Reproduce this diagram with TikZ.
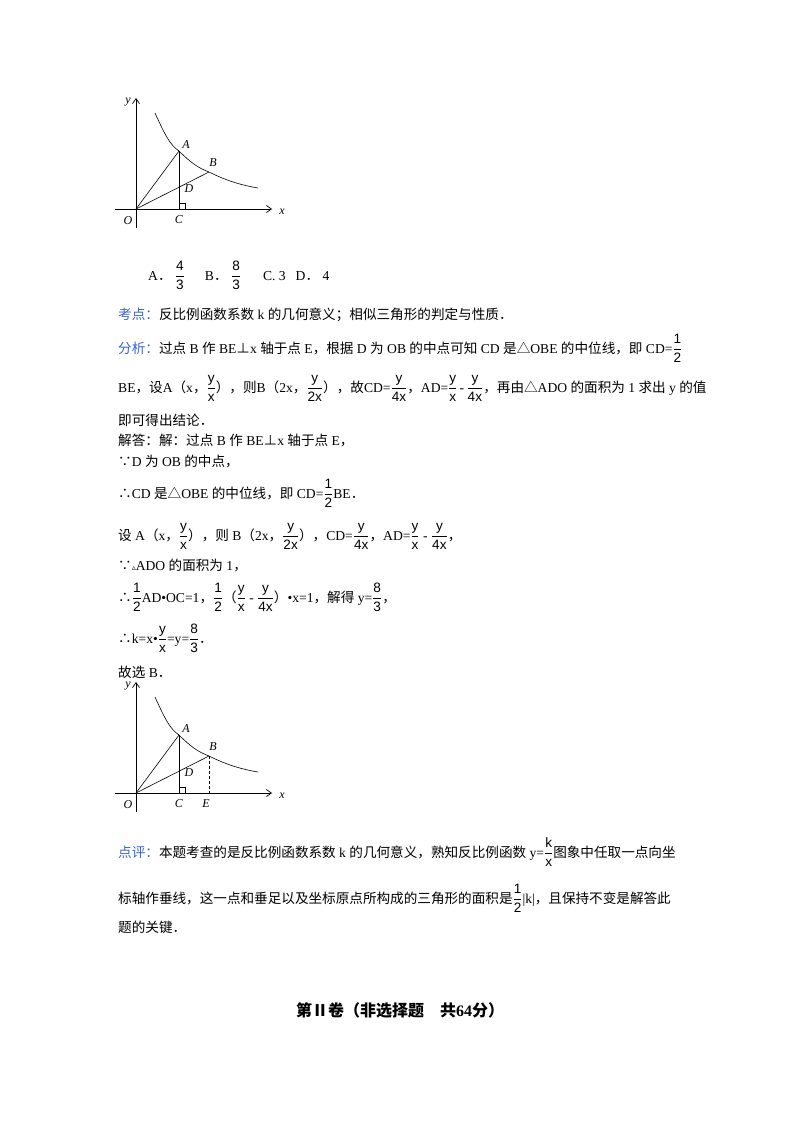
\documentclass[tikz,border=0pt]{standalone}
\usetikzlibrary{calc,arrows.meta}
\usepackage{amsmath}
\usepackage{fontspec}
\setmainfont{Liberation Serif}
\newfontfamily\cjk{Noto Sans CJK SC}
\newfontfamily\arl{Liberation Sans}
\newfontfamily\dv{DejaVu Sans}
\definecolor{kb}{RGB}{60,100,210}
\newcommand{\fr}[2]{$\dfrac{\hbox{\arl #1}}{\hbox{\arl #2}}$}
\newcommand{\zh}[1]{{\cjk #1}}
\newcommand{\sbc}{{\cjk ∵}}
\newcommand{\sth}{{\cjk ∴}}
\newcommand{\spp}{{\cjk ⊥}}
\newcommand{\stri}{{\cjk △}}
\newcommand{\sdot}{{\cjk ．}}
\begin{document}
\begin{tikzpicture}[x=1pt,y=-1pt,
  tl/.style={anchor=base west,inner sep=0pt,font=\fontsize{13.6}{16}\selectfont},
  gl/.style={font=\fontsize{12}{14}\selectfont\itshape,inner sep=0pt},
  ax/.style={line width=0.7pt,-{Straight Barb[length=5pt,width=7pt]}},
  ln/.style={line width=0.6pt}]
\useasboundingbox (0,0) rectangle (800,1132);
\fill[white] (0,0) rectangle (800,1132);
% graph 1 and 2
\foreach \dy/\nm in {0/a,584/b}{
\begin{scope}[yshift=-\dy pt]
\coordinate (O\nm) at (136,209);
\coordinate (A\nm) at (179,151);
\coordinate (B\nm) at (209,172);
\coordinate (C\nm) at (179,209);
\coordinate (E\nm) at (209,209);
\draw[ax] (115,209) -- (272,209);
\draw[ax] (136,228) -- (136,98);
\draw[ln] (155,113) .. controls (165,135) and (170,145) .. (A\nm) .. controls (190,162) and (198,168) .. (B\nm) .. controls (225,180) and (240,185) .. (258,188);
\draw[ln] (O\nm) -- (A\nm);
\draw[ln] (O\nm) -- (B\nm);
\draw[ln] (A\nm) -- (C\nm);
\draw[line width=0.5pt] (179,203) -- (185,203) -- (185,209);
\node[gl] (ly\nm) at (128,102) {y};
\node[gl] (lx\nm) at (282,212) {x};
\node[gl] (lo\nm) at (128,221) {O};
\node[gl] (lc\nm) at (179,220) {C};
\node[gl] (la\nm) at (186,145) {A};
\node[gl] (lb\nm) at (213,163) {B};
\node[gl] (ld\nm) at (189,189) {D};
\end{scope}}
\draw[ln,densely dashed] (Bb) -- (Eb);
\node[gl] (le) at (206,804) {E};
% text
\node[tl] (opt) at (148,280) {A\sdot\ \fr{4}{3}\hspace{20pt}B\sdot\ \fr{8}{3}\hspace{22pt}C. 3\hspace{10pt}D\sdot\ 4};
\node[tl] (l1) at (118,319) {\color{kb}\zh{考点：}\color{black}\zh{反比例函数系数} k \zh{的几何意义；相似三角形的判定与性质}\sdot};
\node[tl] (l2) at (118,353) {\color{kb}\zh{分析：}\color{black}\zh{过点} B \zh{作} BE\spp x \zh{轴于点} E\zh{，根据} D \zh{为} OB \zh{的中点可知} CD \zh{是}\stri OBE \zh{的中位线，即} CD=\fr{1}{2}};
\node[tl] (l3) at (118,392) {BE\zh{，设}A\zh{（}x\zh{，}\fr{y}{x}\zh{），则}B\zh{（}2x\zh{，}\fr{y}{2x}\zh{），故}CD=\fr{y}{4x}\zh{，}AD=\fr{y}{x}\,-\,\fr{y}{4x}\zh{，再由}\stri ADO \zh{的面积为} 1 \zh{求出} y \zh{的值}};
\node[tl] (l4) at (118,425) {\zh{即可得出结论}\sdot};
\node[tl] (l5) at (118,445) {\zh{解答：解：过点} B \zh{作} BE\spp x \zh{轴于点} E\zh{，}};
\node[tl] (l6) at (118,466) {\sbc D \zh{为} OB \zh{的中点，}};
\node[tl] (l7) at (118,498) {\sth CD \zh{是}\stri OBE \zh{的中位线，即} CD=\fr{1}{2}BE\sdot};
\node[tl] (l8) at (118,540) {\zh{设} A\zh{（}x\zh{，}\fr{y}{x}\zh{），则} B\zh{（}2x\zh{，}\fr{y}{2x}\zh{），}CD=\fr{y}{4x}\zh{，}AD=\fr{y}{x} - \fr{y}{4x}\zh{，}};
\node[tl] (l9) at (118,570) {\sbc{\dv\fontsize{8}{8}\selectfont ▵}ADO \zh{的面积为} 1\zh{，}};
\node[tl] (l10) at (118,602) {\sth\fr{1}{2}AD•OC=1\zh{，}\fr{1}{2}\zh{（}\fr{y}{x} - \fr{y}{4x}\zh{）}•x=1\zh{，解得} y=\fr{8}{3}\zh{，}};
\node[tl] (l11) at (118,643) {\sth k=x•\fr{y}{x}=y=\fr{8}{3}\sdot};
\node[tl] (l12) at (118,677) {\zh{故选} B\sdot};
\node[tl] (l13) at (118,857) {\color{kb}\zh{点评：}\color{black}\zh{本题考查的是反比例函数系数} k \zh{的几何意义，熟知反比例函数} y=\fr{k}{x}\zh{图象中任取一点向坐}};
\node[tl] (l14) at (118,903) {\zh{标轴作垂线，这一点和垂足以及坐标原点所构成的三角形的面积是}\fr{1}{2}|k|\zh{，且保持不变是解答此}};
\node[tl] (l15) at (118,932) {\zh{题的关键}\sdot};
\node[font=\fontsize{16}{18}\selectfont\bfseries,inner sep=0pt] (title) at (400,1010) {\zh{\bfseries 第Ⅱ卷（非选择题　共}64\zh{\bfseries 分）}};
\end{tikzpicture}
\end{document}
